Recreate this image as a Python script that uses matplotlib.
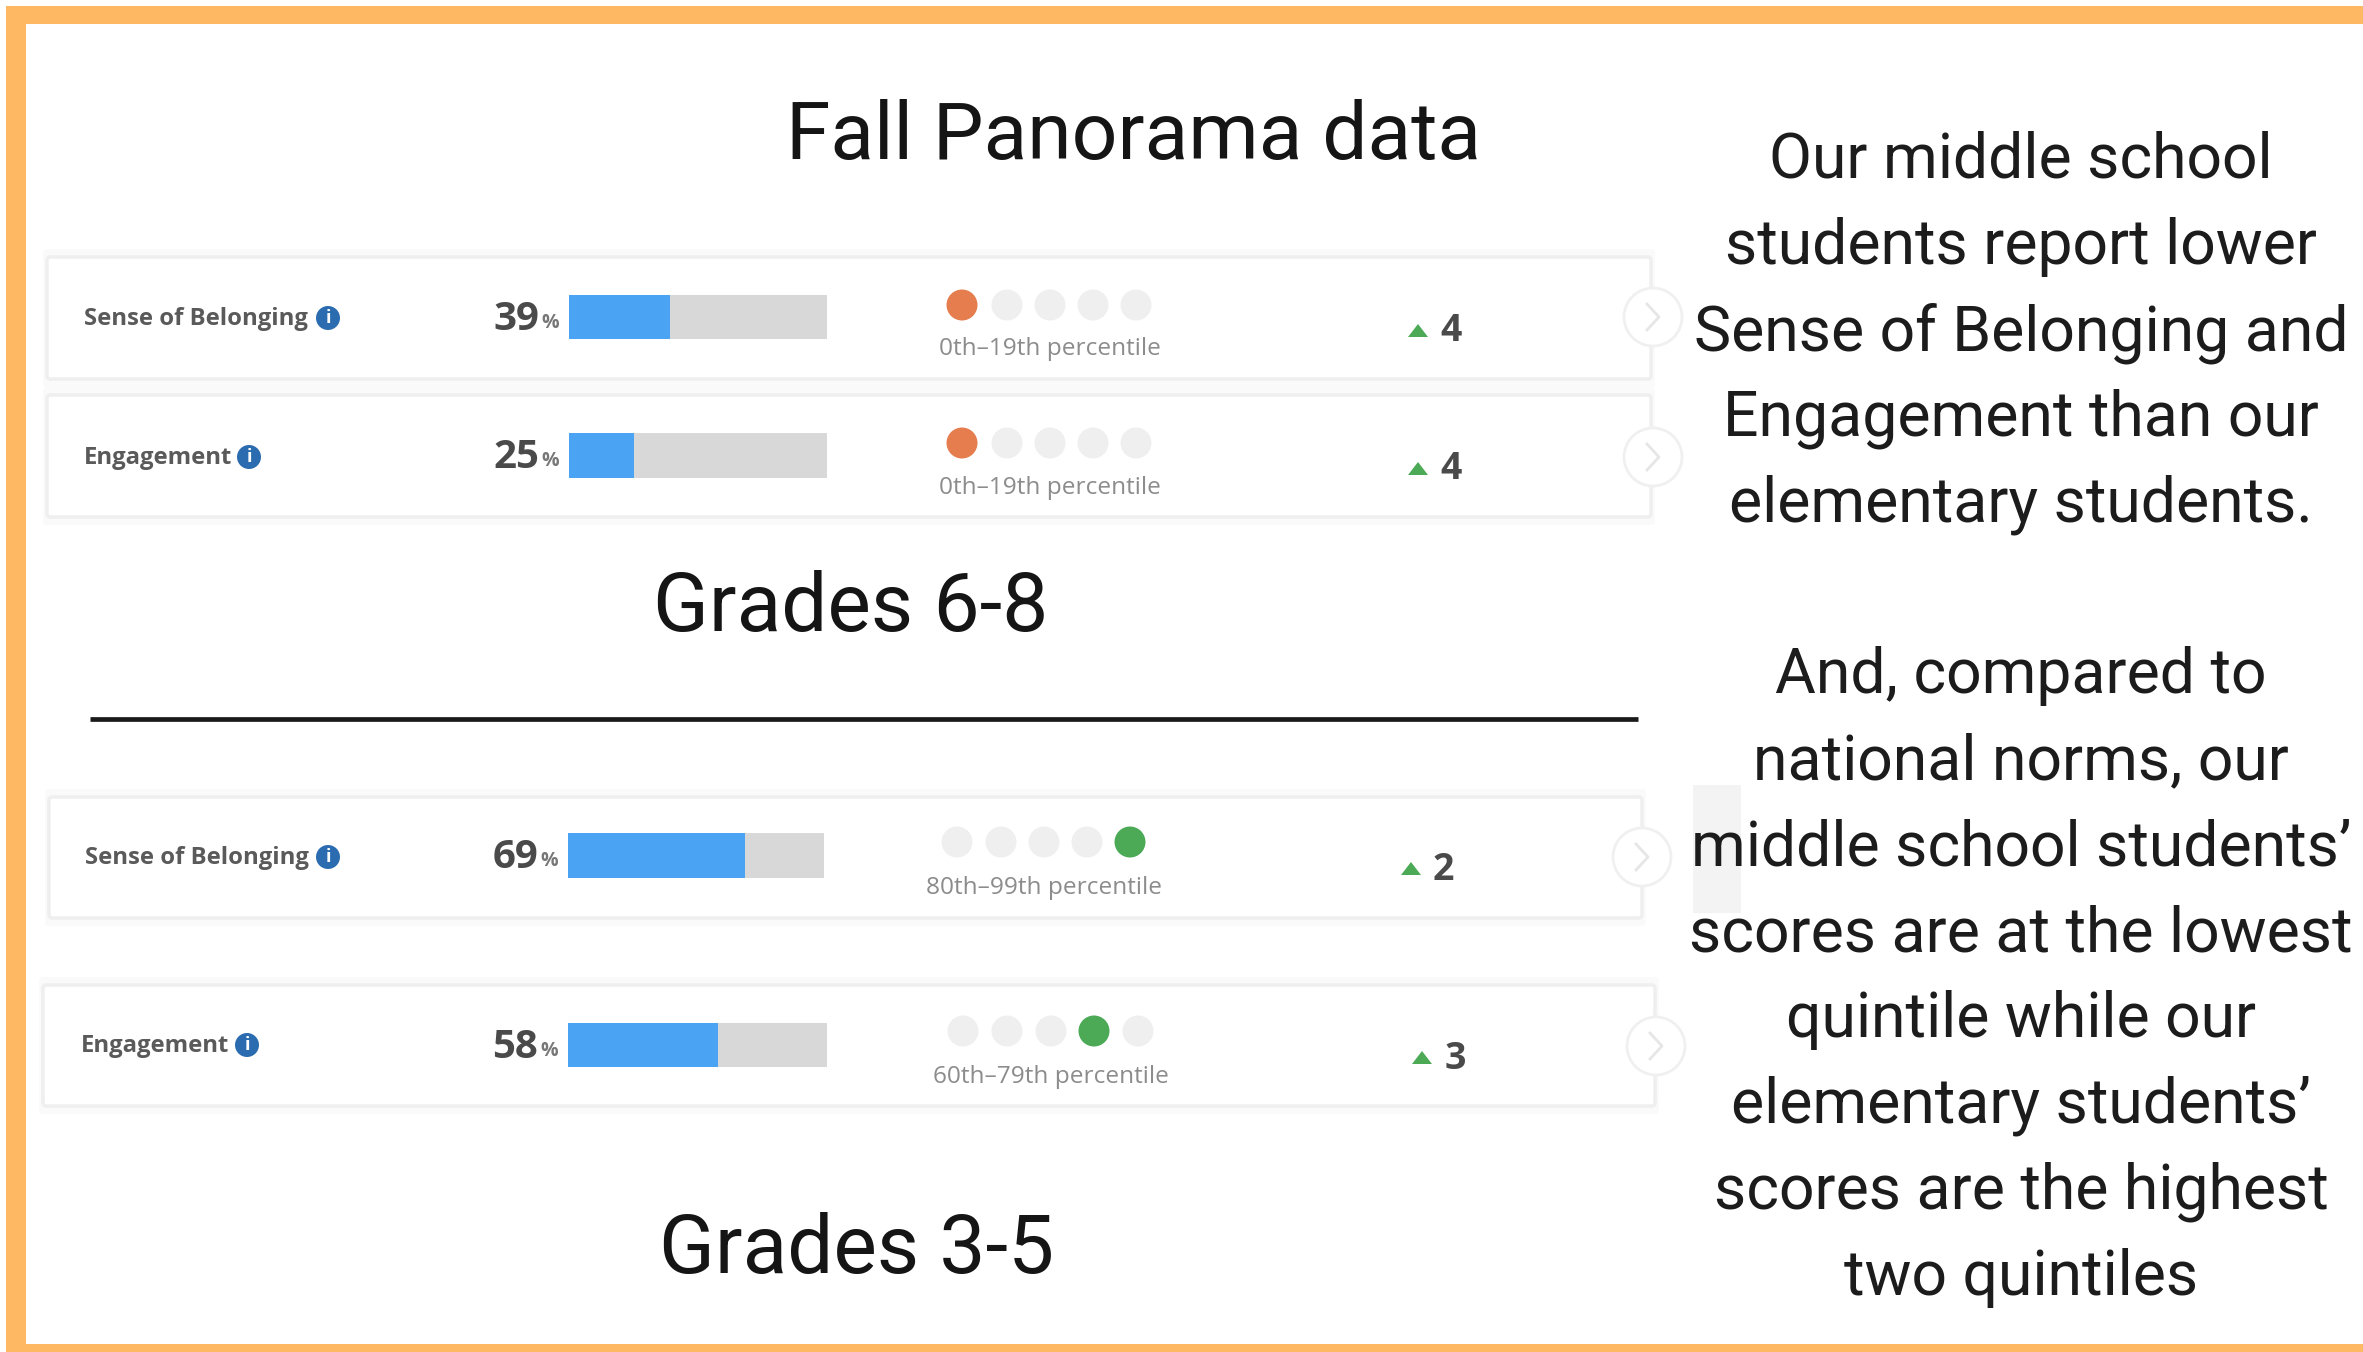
import matplotlib
matplotlib.use('Agg')
import matplotlib.pyplot as plt
from matplotlib.patches import Rectangle, Circle, FancyBboxPatch, Polygon

W, H = 2363, 1352

# DATA
metric_labels = ['Sense of Belonging', 'Engagement', 'Sense of Belonging', 'Engagement']
favorable_pct = [39, 25, 69, 58]
active_quintile = [0, 0, 4, 3]
percentile_labels = ['0th–19th percentile', '0th–19th percentile',
                     '80th–99th percentile', '60th–79th percentile']
change_values = [4, 4, 2, 3]
title = 'Fall Panorama data'
group_labels = ['Grades 6-8', 'Grades 3-5']
side_lines = ['Our middle school', 'students report lower', 'Sense of Belonging and',
              'Engagement than our', 'elementary students.', '',
              'And, compared to', 'national norms, our', 'middle school students’',
              'scores are at the lowest', 'quintile while our', 'elementary students’',
              'scores are the highest', 'two quintiles']

# LAYOUT (pixels of the picture)
cards = [(47, 257, 1651, 379), (47, 395, 1651, 517), (49, 797, 1642, 918), (43, 985, 1655, 1106)]
label_x = [84, 84, 85, 81]
label_y = [319, 458, 858, 1046]
info_x = [328, 249, 328, 247]
bars = [(569, 827, 295, 339), (569, 827, 433, 478), (568, 824, 833, 878), (568, 827, 1023, 1067)]
dots_x = [[962, 1007, 1050, 1093, 1136], [962, 1007, 1050, 1093, 1136],
          [957, 1001, 1044, 1087, 1130], [963, 1007, 1051, 1094, 1138]]
dots_y = [305, 443, 842, 1031]
perc_x = [1050, 1050, 1044, 1051]
perc_y = [349, 488, 888, 1077]
tri_x = [1418, 1418, 1411, 1422]
tri_y = [331, 469, 869, 1058]
num_x = [1451, 1451, 1443, 1455]
num_y = [331, 469, 870, 1059]
chev_x = [1653, 1653, 1642, 1656]
chev_y = [317, 457, 857, 1046]

ORANGE = '#FEB863'
BLUE = '#4AA3F3'
GRAY_BAR = '#D8D8D8'
DOT_OFF = '#EFEFEF'
DOT_COLORS = ['#E57D4E', '#E57D4E', '#4CAA57', '#4CAA57']
DARK = '#4A4A4A'
FONT = 'Roboto'
CARD_FONT = 'Open Sans'

fig = plt.figure(figsize=(W / 100, H / 100), dpi=100, facecolor='white')
ax = fig.add_axes([0, 0, 1, 1])
ax.set_xlim(0, W)
ax.set_ylim(H, 0)
ax.axis('off')

# orange frame, open on the right
ax.add_patch(Rectangle((6, 6), W - 6, 18, color=ORANGE, lw=0))
ax.add_patch(Rectangle((6, 6), 20, H - 14, color=ORANGE, lw=0))
ax.add_patch(Rectangle((6, 1344), W - 6, 8, color=ORANGE, lw=0))

# stray gray patch behind the side text
ax.add_patch(Rectangle((1693, 785), 48, 128, color='#F3F3F3', lw=0))

ax.text(1133, 137, title, fontsize=57.8, family=FONT, color='#151515', ha='center', va='center')
ax.text(851, 609, group_labels[0], fontsize=59, family=FONT, color='#151515', ha='center', va='center')
ax.text(857, 1251, group_labels[1], fontsize=59, family=FONT, color='#151515', ha='center', va='center')
ax.plot([90, 1638], [719, 719], color='#1A1A1A', lw=3.4, solid_capstyle='butt')

line_y0 = 161
line_step = 85.9
for i, line in enumerate(side_lines):
    if line:
        ax.text(2021, line_y0 + i * line_step, line, fontsize=45, family=FONT,
                color='#1C1C1C', ha='center', va='center')

for i in range(4):
    x0, y0, x1, y1 = cards[i]
    # soft card outline
    ax.add_patch(FancyBboxPatch((x0 - 4, y0 - 8), x1 - x0 + 8, y1 - y0 + 16,
                                boxstyle='round,pad=0,rounding_size=4', fc='#FAFAFA', ec='none'))
    ax.add_patch(FancyBboxPatch((x0, y0), x1 - x0, y1 - y0,
                                boxstyle='round,pad=0,rounding_size=3', fc='white', ec='#EFEFEF', lw=2.5))

    ax.text(label_x[i], label_y[i], metric_labels[i], fontsize=17.2, family=CARD_FONT, weight='bold',
            color='#5A5A5A', ha='left', va='center')
    ax.add_patch(Circle((info_x[i], label_y[i] - 1), 12, color='#2B6CB0', lw=0))
    ax.text(info_x[i], label_y[i] - 1, 'i', fontsize=13, family=CARD_FONT, weight='bold',
            color='white', ha='center', va='center')

    # bar on its own 0-100 axes
    bx0, bx1, by0, by1 = bars[i]
    bar_ax = fig.add_axes([bx0 / W, 1 - by1 / H, (bx1 - bx0) / W, (by1 - by0) / H])
    bar_ax.set_xlim(0, 100)
    bar_ax.set_ylim(0, 1)
    bar_ax.axis('off')
    bar_ax.barh(0.5, 100, height=1, color=GRAY_BAR, lw=0)
    bar_ax.barh(0.5, favorable_pct[i], height=1, color=BLUE, lw=0)

    ax.text(bx0 - 30, (by0 + by1) / 2 + 2, str(favorable_pct[i]), fontsize=29, family=CARD_FONT, weight='bold',
            color=DARK, ha='right', va='center')
    ax.text(bx0 - 10, (by0 + by1) / 2 + 6, '%', fontsize=14, family=CARD_FONT, weight='bold',
            color='#777777', ha='right', va='center')

    for q, dx in enumerate(dots_x[i]):
        c = DOT_COLORS[i] if q == active_quintile[i] else DOT_OFF
        ax.add_patch(Circle((dx, dots_y[i]), 15.5, color=c, lw=0))
    ax.text(perc_x[i], perc_y[i], percentile_labels[i], fontsize=17.6, family=CARD_FONT,
            color='#8C8C8C', ha='center', va='center')

    tx, ty = tri_x[i], tri_y[i]
    ax.add_patch(Polygon([(tx - 10, ty + 6), (tx + 10, ty + 6), (tx, ty - 7)], color='#4CAA57', lw=0))
    ax.text(num_x[i], num_y[i], str(change_values[i]), fontsize=27, family=CARD_FONT, weight='bold',
            color=DARK, ha='center', va='center')

    # chevron button
    cx, cy = chev_x[i], chev_y[i]
    ax.add_patch(Circle((cx, cy), 29, fc='white', ec='#F0F0F0', lw=2))
    ax.plot([cx - 6, cx + 6, cx - 6], [cy - 13, cy, cy + 13], color='#E6E6E6', lw=2)

fig.savefig('out.png', dpi=100, facecolor='white')
